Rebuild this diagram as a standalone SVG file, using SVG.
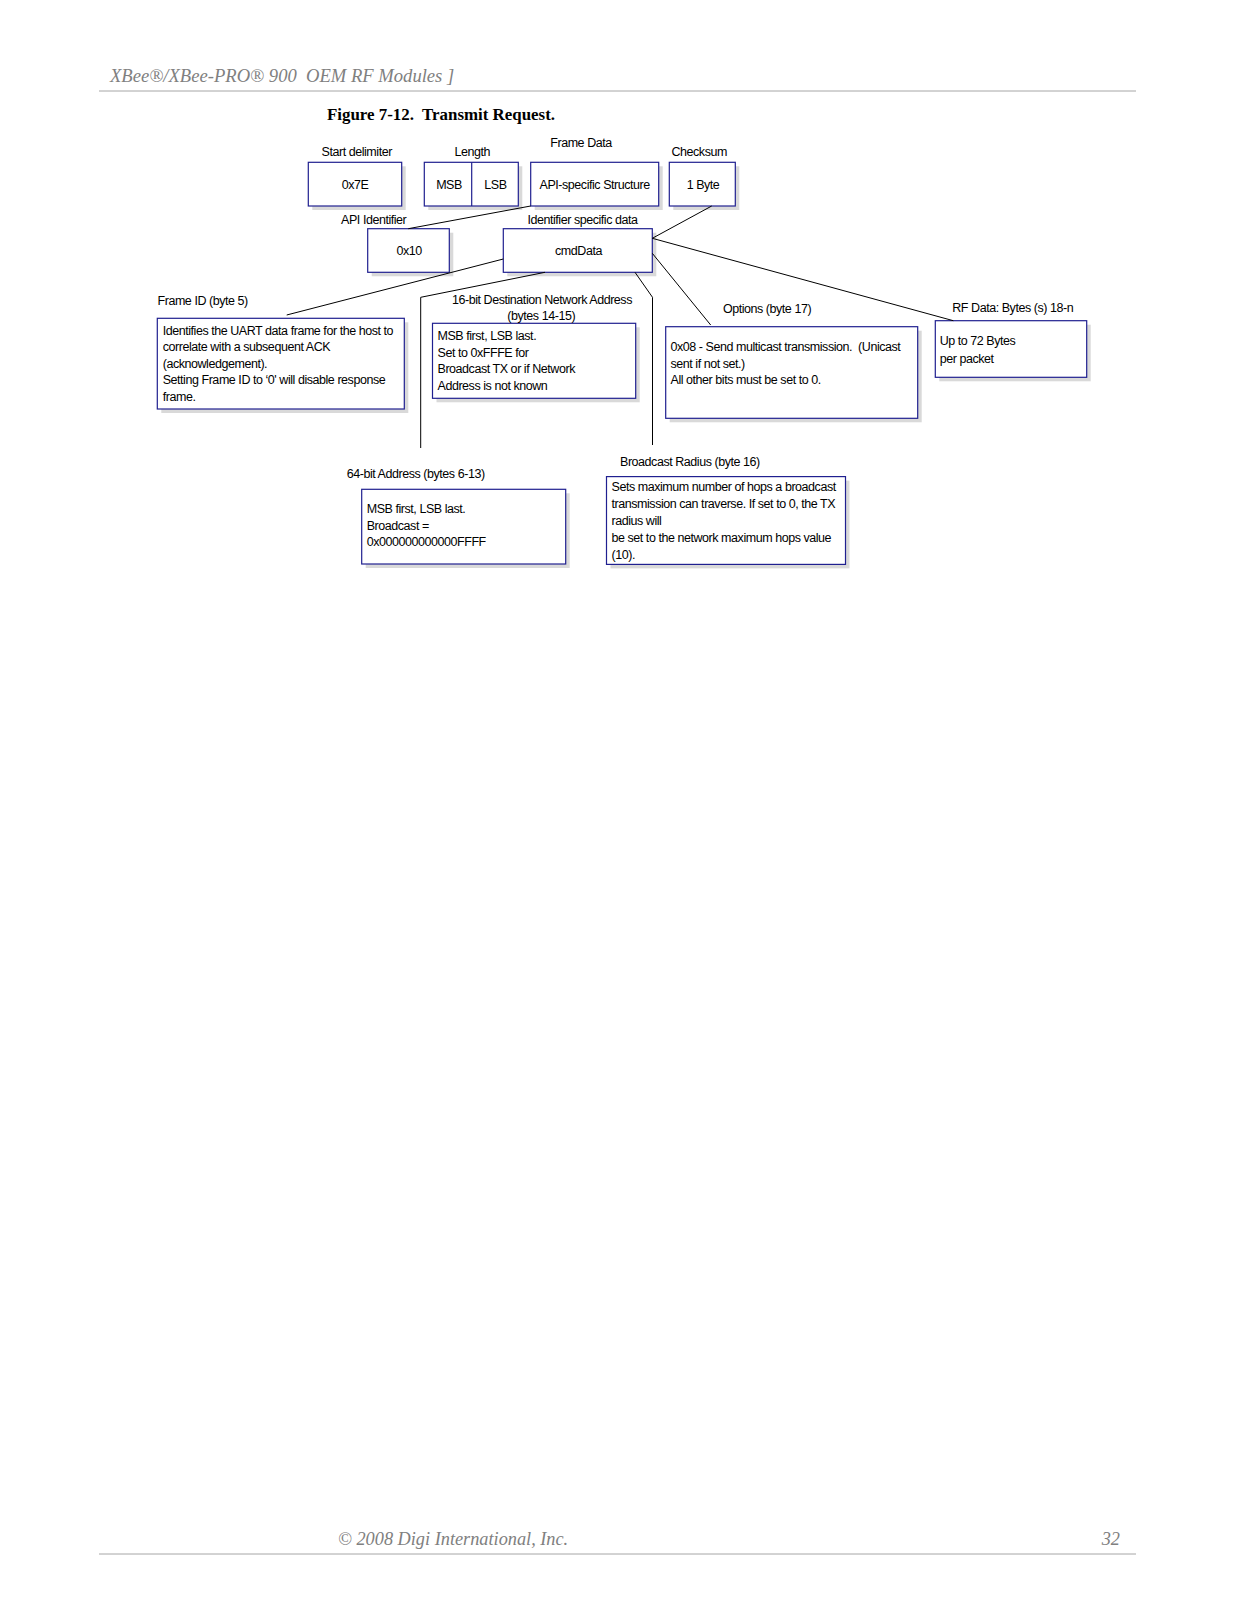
<svg xmlns="http://www.w3.org/2000/svg" width="1237" height="1600" viewBox="0 0 1237 1600">
<style>
.sh{fill:#d9d9d9}
.bx{fill:#fff;stroke:#202090;stroke-width:1.2}
.dv{stroke:#202090;stroke-width:1.2}
.t{font-family:"Liberation Sans",Arial,sans-serif;font-size:12.5px;letter-spacing:-0.45px;fill:#000}
.c{text-anchor:middle}
.ln{fill:none;stroke:#000;stroke-width:1}
.hd{font-family:"Liberation Serif","Times New Roman",serif;font-style:italic;fill:#808080;font-size:18.6px}
.ft{font-family:"Liberation Serif","Times New Roman",serif;font-style:italic;fill:#808080;font-size:18.3px}
.ttl{font-family:"Liberation Serif","Times New Roman",serif;font-weight:bold;fill:#000;font-size:16.9px}
.rule{stroke:#a6a6a6;stroke-width:1}
</style>
<rect width="1237" height="1600" fill="#fff"/>

<g id="page">
<text class="hd" x="110" y="82" xml:space="preserve">XBee®/XBee-PRO® 900  OEM RF Modules ]</text>
<line class="rule" x1="99" y1="91" x2="1136" y2="91"/>
<text class="ttl" x="327" y="120" xml:space="preserve">Figure 7-12.  Transmit Request.</text>
<text class="ft" x="338" y="1545">© 2008 Digi International, Inc.</text>
<text class="ft" x="1120" y="1545" text-anchor="end">32</text>
<line class="rule" x1="99" y1="1554" x2="1136" y2="1554"/>
</g>

<g id="start-delimiter">
<rect class="sh" x="312.3" y="166.3" width="93.4" height="43.7"/>
<rect class="bx" x="308.3" y="162.3" width="93.4" height="43.7"/>
<text class="t c" x="356.7" y="156">Start delimiter</text>
<text class="t c" x="355" y="188.5">0x7E</text>
</g>

<g id="length">
<rect class="sh" x="428.3" y="166.3" width="94" height="43.7"/>
<rect class="bx" x="424.3" y="162.3" width="94" height="43.7"/>
<line class="dv" x1="471.7" y1="162.3" x2="471.7" y2="206"/>
<text class="t c" x="472.2" y="156">Length</text>
<text class="t c" x="449" y="188.5">MSB</text>
<text class="t c" x="495.5" y="188.5">LSB</text>
</g>

<g id="frame-data">
<rect class="sh" x="534.7" y="166.3" width="128" height="43.7"/>
<rect class="bx" x="530.7" y="162.3" width="128" height="43.7"/>
<text class="t c" x="581" y="146.7">Frame Data</text>
<text class="t c" x="594.7" y="188.5">API-specific Structure</text>
</g>

<g id="checksum">
<rect class="sh" x="673.3" y="166.3" width="66" height="43.7"/>
<rect class="bx" x="669.3" y="162.3" width="66" height="43.7"/>
<text class="t c" x="699.2" y="156">Checksum</text>
<text class="t c" x="703" y="188.5">1 Byte</text>
</g>

<g id="api-identifier">
<rect class="sh" x="371.7" y="232.7" width="81.6" height="43.6"/>
<rect class="bx" x="367.7" y="228.7" width="81.6" height="43.6"/>
<text class="t c" x="373.7" y="224.3">API Identifier</text>
<text class="t c" x="409.2" y="255">0x10</text>
</g>

<g id="cmd-data">
<rect class="sh" x="507.3" y="232.7" width="149" height="43.6"/>
<rect class="bx" x="503.3" y="228.7" width="149" height="43.6"/>
<text class="t c" x="582.5" y="224.3">Identifier specific data</text>
<text class="t c" x="578.5" y="255">cmdData</text>
</g>

<g id="frame-id">
<rect class="sh" x="161.3" y="322.3" width="247" height="90.7"/>
<rect class="bx" x="157.3" y="318.3" width="247" height="90.7"/>
<text class="t" x="157.5" y="305">Frame ID (byte 5)</text>
<text class="t" x="162.7" y="334.5">Identifies the UART data frame for the host to</text>
<text class="t" x="162.7" y="351">correlate with a subsequent ACK</text>
<text class="t" x="162.7" y="367.5">(acknowledgement).</text>
<text class="t" x="162.7" y="384">Setting Frame ID to ‘0' will disable response</text>
<text class="t" x="162.7" y="400.5">frame.</text>
</g>

<g id="dest-16bit">
<rect class="sh" x="436.5" y="327.3" width="203.2" height="75"/>
<rect class="bx" x="432.5" y="323.3" width="203.2" height="75"/>
<text class="t c" x="542" y="304">16-bit Destination Network Address</text>
<text class="t c" x="541.2" y="320">(bytes 14-15)</text>
<text class="t" x="437.5" y="340">MSB first, LSB last.</text>
<text class="t" x="437.5" y="356.5">Set to 0xFFFE for</text>
<text class="t" x="437.5" y="373">Broadcast TX or if Network</text>
<text class="t" x="437.5" y="389.5">Address is not known</text>
</g>

<g id="options">
<rect class="sh" x="669.7" y="330.7" width="252" height="91.6"/>
<rect class="bx" x="665.7" y="326.7" width="252" height="91.6"/>
<text class="t c" x="767" y="313.3">Options (byte 17)</text>
<text class="t" x="670.5" y="351" xml:space="preserve">0x08 - Send multicast transmission.  (Unicast</text>
<text class="t" x="670.5" y="367.5">sent if not set.)</text>
<text class="t" x="670.5" y="384">All other bits must be set to 0.</text>
</g>

<g id="rf-data">
<rect class="sh" x="939.3" y="324.7" width="151.4" height="56.6"/>
<rect class="bx" x="935.3" y="320.7" width="151.4" height="56.6"/>
<text class="t" x="952.3" y="311.7">RF Data: Bytes (s) 18-n</text>
<text class="t" x="939.7" y="345">Up to 72 Bytes</text>
<text class="t" x="939.7" y="363">per packet</text>
</g>

<g id="addr-64bit">
<rect class="sh" x="365.7" y="493.3" width="204" height="74.7"/>
<rect class="bx" x="361.7" y="489.3" width="204" height="74.7"/>
<text class="t" x="346.7" y="478">64-bit Address (bytes 6-13)</text>
<text class="t" x="366.7" y="513">MSB first, LSB last.</text>
<text class="t" x="366.7" y="529.7">Broadcast =</text>
<text class="t" x="366.7" y="546">0x000000000000FFFF</text>
</g>

<g id="broadcast-radius">
<rect class="sh" x="610.5" y="480.6" width="239" height="87.8"/>
<rect class="bx" x="606.5" y="476.6" width="239" height="87.8"/>
<text class="t" x="620" y="466">Broadcast Radius (byte 16)</text>
<text class="t" x="611.5" y="490.5">Sets maximum number of hops a broadcast</text>
<text class="t" x="611.5" y="507.5">transmission can traverse. If set to 0, the TX</text>
<text class="t" x="611.5" y="524.5">radius will</text>
<text class="t" x="611.5" y="541.5">be set to the network maximum hops value</text>
<text class="t" x="611.5" y="558.5">(10).</text>
</g>

<g id="connectors">
<path class="ln" d="M530.7,206 L408.3,228.7"/>
<path class="ln" d="M711.7,206 L652.3,238.3"/>
<path class="ln" d="M652.3,238.3 L953.3,320.7"/>
<path class="ln" d="M652.3,253.3 L710.7,325"/>
<path class="ln" d="M503.3,259 L286.7,315"/>
<path class="ln" d="M545,272.3 L420.7,297.3 L420.7,448"/>
<path class="ln" d="M635,272.3 L652.5,297.3 L652.5,445"/>
</g>
</svg>
